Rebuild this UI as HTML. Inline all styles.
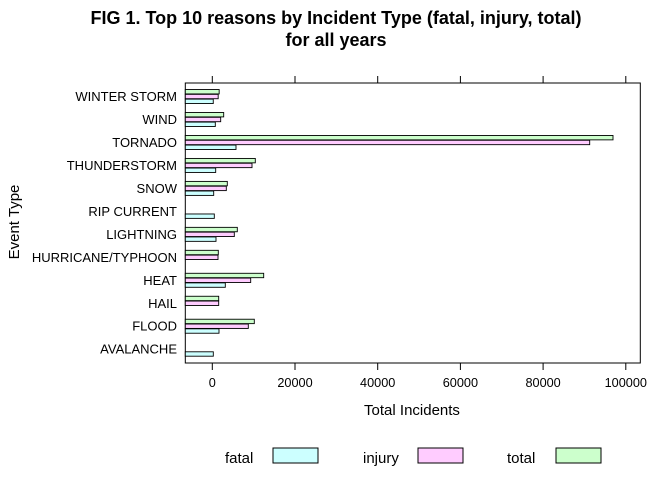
<!DOCTYPE html>
<html><head><meta charset="utf-8"><style>body{margin:0;background:#fff}svg{display:block;font-family:"Liberation Sans",Arial,sans-serif}</style></head>
<body>
<svg id="c" width="672" height="480">
<text x="336" y="24" text-anchor="middle" font-size="18" font-weight="bold">FIG 1. Top 10 reasons by Incident Type (fatal, injury, total)</text>
<text x="336" y="46" text-anchor="middle" font-size="18" font-weight="bold">for all years</text>
<rect x="185.3" y="83" width="455" height="280" fill="none" stroke="#000" stroke-width="1"/>
<g id="bars"></g><g id="axes"></g>
<text x="412" y="415" text-anchor="middle" font-size="15">Total Incidents</text>
<text transform="translate(19,222) rotate(-90)" text-anchor="middle" font-size="15">Event Type</text>
<g>
<text x="225" y="463" font-size="15">fatal</text>
<rect x="273" y="448" width="45" height="15" fill="#CCFFFF" stroke="#000"/>
<text x="363" y="463" font-size="15">injury</text>
<rect x="418" y="448" width="45" height="15" fill="#FFCCFF" stroke="#000"/>
<text x="507" y="463" font-size="15">total</text>
<rect x="556" y="448" width="45" height="15" fill="#CCFFCC" stroke="#000"/>
</g>
</svg>
<script>
const categories=["AVALANCHE","FLOOD","HAIL","HEAT","HURRICANE/TYPHOON","LIGHTNING","RIP CURRENT","SNOW","THUNDERSTORM","TORNADO","WIND","WINTER STORM"];
const fatal=[242,1620,0,3144,0,895,484,339,822,5731,725,230];
const injury=[0,8706,1548,9287,1380,5320,0,3386,9601,91270,2031,1420];
const total=[0,10157,1548,12430,1450,6046,0,3627,10399,96905,2757,1660];
const xTicks=[0,20000,40000,60000,80000,100000];
const NS="http://www.w3.org/2000/svg";
const left=185.3;
function xs(v){return 212.3+v*82.7/20000;}
function rowC(i){return 349.2-i*22.97;}
const bars=document.getElementById('bars'),axes=document.getElementById('axes');
function mk(t,a,p){const e=document.createElementNS(NS,t);for(const k in a)e.setAttribute(k,a[k]);p.appendChild(e);return e;}
const series=[[fatal,"#CCFFFF",4.8,"fatal"],[injury,"#FFCCFF",0,"injury"],[total,"#CCFFCC",-4.8,"total"]];
categories.forEach((c,i)=>{
  const cy=rowC(i);
  const t=mk('text',{x:177,y:cy+4.5,'text-anchor':'end','font-size':13},axes);t.textContent=c;
  
  
  series.forEach(s=>{
    const v=s[0][i];if(!v)return;
    const r=mk('rect',{x:left,y:cy+s[2]-2.2,width:Math.max(0,xs(v)-left),height:4.4,fill:s[1],stroke:'#000','stroke-width':0.9},bars);
    
    
  });
});
xTicks.forEach(v=>{
  const x=xs(v);
  const a=mk('line',{x1:x,x2:x,y1:363,y2:370,stroke:'#000'},axes);
  
  
  const b=mk('line',{x1:x,x2:x,y1:76,y2:83,stroke:'#000'},axes);
  
  
  const t=mk('text',{x:x,y:387,'text-anchor':'middle','font-size':12.7},axes);t.textContent=v;
  
  
});
</script>
</body></html>
